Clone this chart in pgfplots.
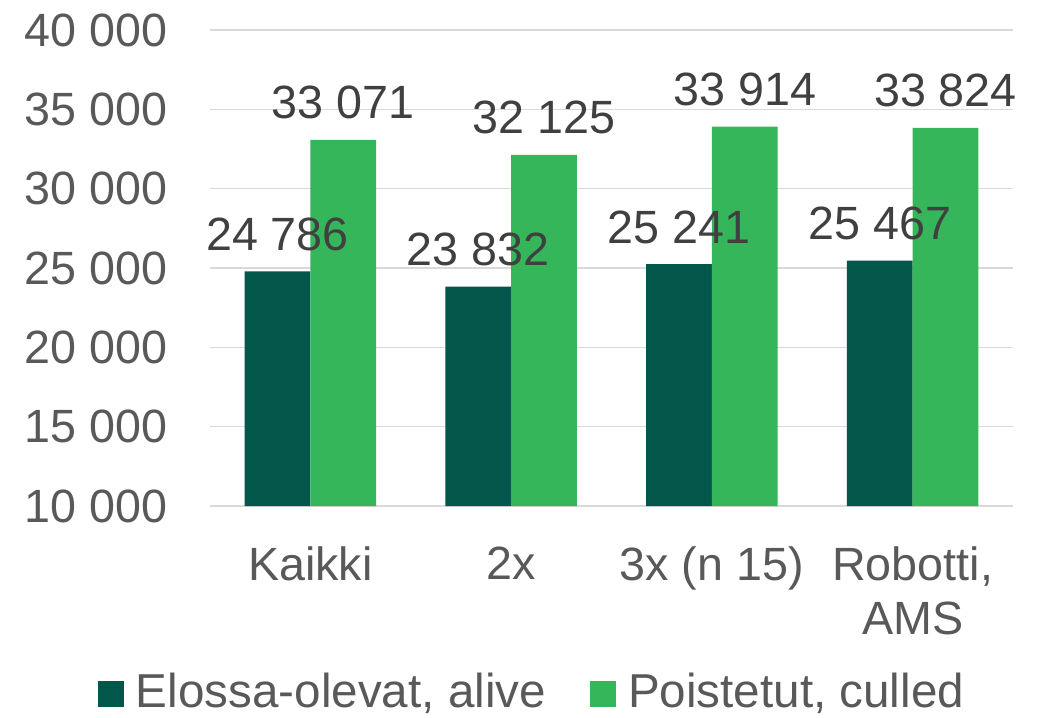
\documentclass[border=0pt]{standalone}
\usepackage{pgfplots}
\pgfplotsset{compat=1.18}
\usepackage{fontspec}
\setmainfont{Liberation Sans}
\definecolor{darkg}{HTML}{03574A}
\definecolor{lightg}{HTML}{36B65A}
\definecolor{gridc}{HTML}{D9D9D9}
\definecolor{ticktxt}{HTML}{595959}
\definecolor{lbltxt}{HTML}{404040}
\newcommand\bigf{\fontsize{35}{40}\selectfont}
\newcommand\legf{\fontsize{35.7}{40}\selectfont}
\begin{document}
\begin{tikzpicture}
\useasboundingbox (-157.5pt,-159pt) rectangle (622.5pt,379.5pt);
\begin{axis}[
  at={(0,0)}, anchor=south west,
  scale only axis, width=602.25pt, height=357pt,
  ybar=0pt, bar width=0.328,
  xmin=-0.5, xmax=3.5, ymin=10000, ymax=40000,
  xtick={0,1,2,3},
  xticklabels={Kaikki,2x,3x (n 15),{Robotti,\\AMS}},
  ytick={10000,15000,20000,25000,30000,35000,40000},
  scaled y ticks=false,
  /pgf/number format/.cd, 1000 sep={\ }, assume math mode=true, /pgfplots/.cd,
  axis line style={draw=none},
  major tick length=0pt,
  ymajorgrids, grid style={gridc, line width=1.1pt},
  yticklabel style={anchor=east, inner sep=0pt, xshift=-31.5pt, font=\bigf, text=ticktxt},
  xticklabel style={anchor=north, inner sep=0pt, yshift=-30.5pt, font=\bigf, text=ticktxt, align=center},
  clip=false,
  nodes near coords={\pgfmathprintnumber[fixed,precision=0,1000 sep={\ },assume math mode=true]{\pgfplotspointmeta}},
  nodes near coords style={anchor=base, inner sep=0pt, yshift=15.75pt, font=\bigf, text=lbltxt},
  legend image code/.code={\fill[#1] (0pt,0pt) rectangle (19.5pt,19.5pt);},
  legend columns=2,
  legend style={at={(0,0)}, anchor=north west, xshift=-84pt, yshift=-125pt,
    draw=none, fill=none, inner sep=0pt, outer sep=0pt, font=\legf, text=ticktxt,
    cells={anchor=base west},
    nodes={inner sep=0pt, outer sep=0pt, text depth=0pt},
    /tikz/every odd column/.append style={column sep=9pt},
    /tikz/every even column/.append style={column sep=33pt}},
]
\addplot[fill=darkg, draw=none] coordinates {(0,24786) (1,23832) (2,25241) (3,25467)};
\addplot[fill=lightg, draw=none] coordinates {(0,33071) (1,32125) (2,33914) (3,33824)};
\legend{{Elossa-olevat, alive},{Poistetut, culled}}
\end{axis}
\end{tikzpicture}
\end{document}
